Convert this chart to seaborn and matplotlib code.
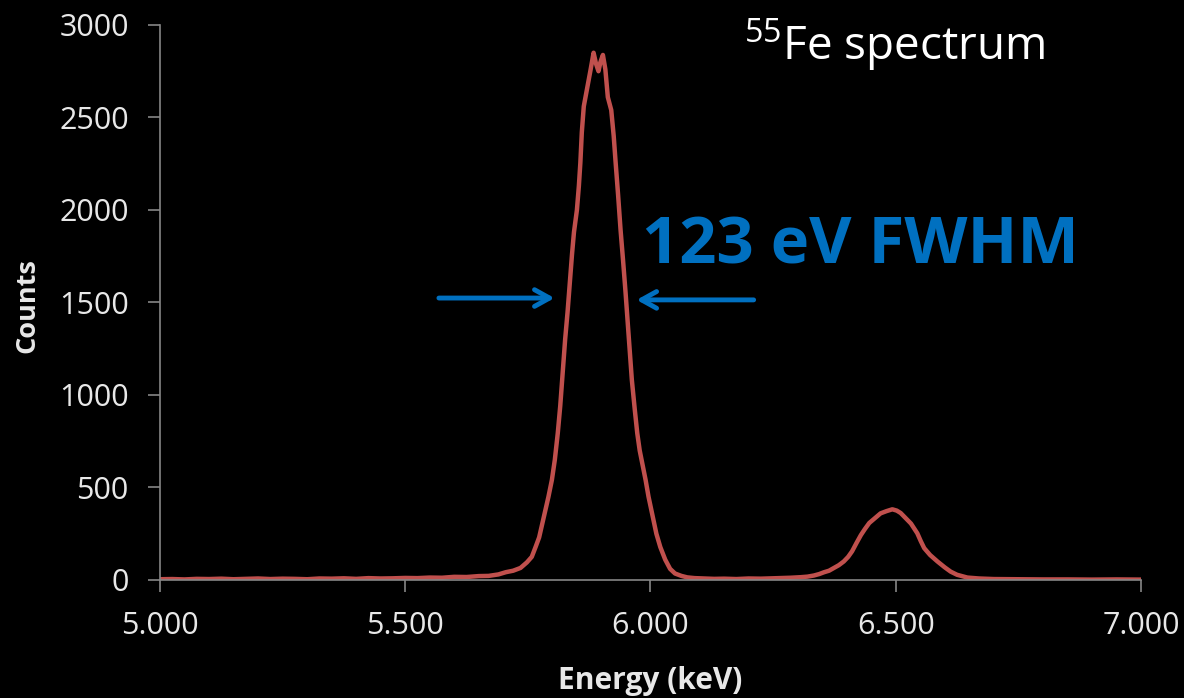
import seaborn as sns
import matplotlib.pyplot as plt
import numpy as np
import pandas as pd

# values
energy = [5.000, 5.025, 5.050, 5.075, 5.100, 5.125, 5.150, 5.175, 5.200, 5.225,
          5.250, 5.275, 5.300, 5.325, 5.350, 5.375, 5.400, 5.425, 5.450, 5.475,
          5.500, 5.525, 5.550, 5.575, 5.600, 5.625, 5.650, 5.670, 5.690, 5.705,
          5.720, 5.735, 5.748, 5.758, 5.766, 5.773, 5.779, 5.785, 5.792, 5.799,
          5.805, 5.811, 5.816, 5.820, 5.826, 5.831, 5.836, 5.840, 5.844, 5.850,
          5.854, 5.857, 5.860, 5.864, 5.871, 5.878, 5.884, 5.889, 5.894, 5.898,
          5.903, 5.908, 5.913, 5.920, 5.925, 5.929, 5.934, 5.939, 5.944, 5.949,
          5.955, 5.962, 5.968, 5.973, 5.978, 5.984, 5.990, 5.996, 6.003, 6.012,
          6.020, 6.030, 6.040, 6.050, 6.063, 6.075, 6.090, 6.110, 6.130, 6.150,
          6.175, 6.200, 6.225, 6.250, 6.265, 6.285, 6.306, 6.320, 6.333, 6.344,
          6.354, 6.364, 6.374, 6.384, 6.394, 6.403, 6.411, 6.420, 6.429, 6.437,
          6.446, 6.458, 6.469, 6.481, 6.493, 6.502, 6.510, 6.520, 6.531, 6.544,
          6.551, 6.558, 6.570, 6.585, 6.600, 6.612, 6.625, 6.646, 6.670, 6.700,
          6.750, 6.800, 6.850, 6.900, 6.950, 7.000]
counts = [4, 5, 3, 6, 5, 7, 4, 6, 8, 5,
          7, 6, 4, 8, 7, 9, 6, 10, 8, 9,
          11, 10, 13, 12, 17, 16, 21, 22, 30, 42,
          50, 65, 95, 125, 180, 230, 300, 370, 450, 541,
          650, 794, 940, 1081, 1300, 1450, 1620, 1760, 1880, 2000,
          2130, 2254, 2420, 2560, 2660, 2760, 2850, 2790, 2750, 2800,
          2838, 2760, 2610, 2540, 2400, 2254, 2080, 1892, 1730, 1560,
          1340, 1081, 920, 794, 700, 620, 541, 450, 362, 250,
          178, 110, 60, 35, 22, 14, 10, 8, 6, 7,
          5, 8, 7, 9, 10, 12, 15, 18, 24, 32,
          42, 50, 65, 80, 100, 125, 155, 200, 243, 275,
          308, 335, 360, 372, 382, 375, 362, 335, 305, 252,
          210, 172, 135, 100, 68, 45, 28, 13, 8, 5,
          4, 3, 3, 2, 3, 2]

x_ticks = [5.0, 5.5, 6.0, 6.5, 7.0]
y_ticks = [0, 500, 1000, 1500, 2000, 2500, 3000]

df = pd.DataFrame({"Energy": energy, "Counts": counts})

sns.set_theme(style="dark", rc={"figure.facecolor": "black", "axes.facecolor": "black"})
plt.rcParams['font.family'] = ['Open Sans', 'DejaVu Sans']
plt.rcParams['mathtext.fontset'] = 'custom'
plt.rcParams['mathtext.rm'] = 'Open Sans'

fig = plt.figure(figsize=(11.84, 6.98), dpi=100)
ax = fig.add_axes([0.1351, 0.1691, 0.8286, 0.7951])

sns.lineplot(data=df, x="Energy", y="Counts", color="#C0504D", lw=3.2, ax=ax)

ax.set_xlim(5.0, 7.0)
ax.set_ylim(0, 3000)
ax.set_xticks(x_ticks)
ax.set_xticklabels([f"{v:.3f}" for v in x_ticks])
ax.set_yticks(y_ticks)
ax.grid(False)

for side in ["top", "right"]:
    ax.spines[side].set_visible(False)
for side in ["left", "bottom"]:
    ax.spines[side].set_color("#868686")
    ax.spines[side].set_linewidth(1.2)

ax.tick_params(axis="both", which="major", direction="out", length=8.5, width=1.2,
               color="#868686", labelcolor="#e8e8e8", labelsize=22, pad=14,
               bottom=True, left=True)

ax.set_xlabel("Energy (keV)", color="#e8e8e8", fontsize=21.5, fontweight="bold")
ax.set_ylabel("Counts", color="#e8e8e8", fontsize=19.5, fontweight="bold")
ax.xaxis.set_label_coords(0.5, -0.155)
ax.yaxis.set_label_coords(-0.122, 0.495)

ax.text(6.19, 2890, r"$\mathregular{^{55}}$Fe spectrum", color="white", fontsize=33,
        ha="left", va="center")
ax.text(6.427, 1800, "123 eV FWHM", color="#0070C0", fontsize=47, fontweight="bold",
        ha="center", va="center")

arrow = dict(arrowstyle="->,head_length=0.9,head_width=0.5", color="#0070C0", lw=3.5)
ax.annotate("", xy=(5.810, 1524), xytext=(5.563, 1524), arrowprops=arrow)
ax.annotate("", xy=(5.966, 1514), xytext=(6.216, 1514), arrowprops=arrow)

fig.savefig("out.png", dpi=100, facecolor="black")
